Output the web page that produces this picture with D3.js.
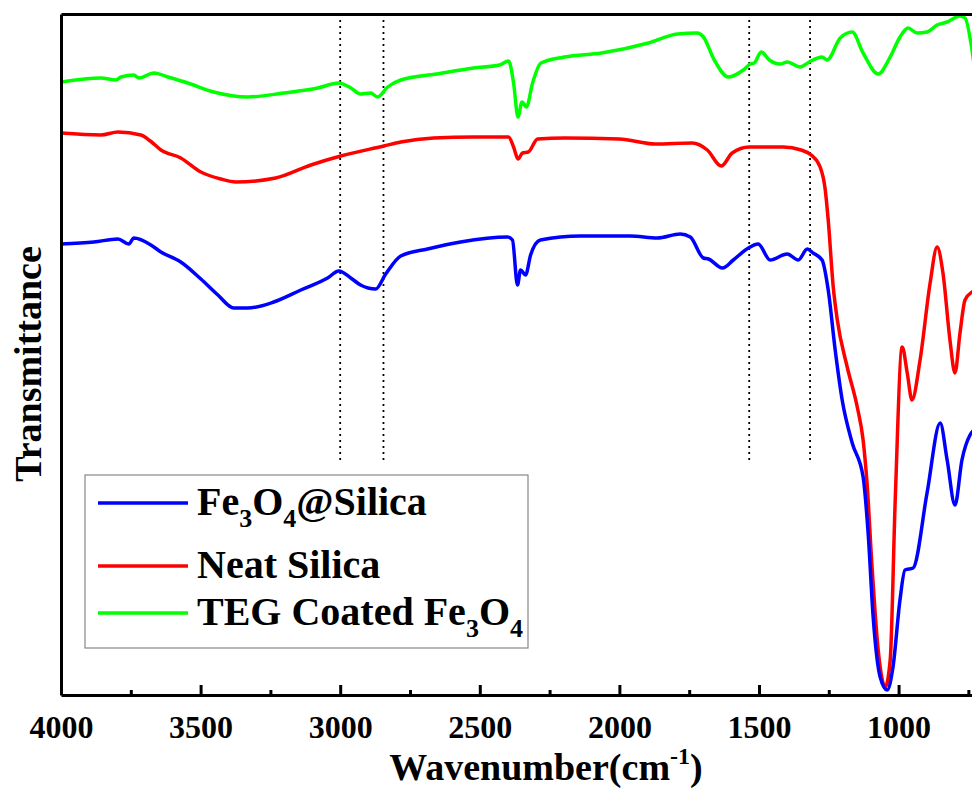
<!DOCTYPE html>
<html>
<head>
<meta charset="utf-8">
<script src="https://cdn.jsdelivr.net/npm/d3@7"></script>
<style>
  body { margin: 0; background: #fff; }
  svg text { font-family: "Liberation Serif", Tinos, "Times New Roman", "DejaVu Serif", serif !important; font-weight: bold; }
</style>
</head>
<body>
<div class="diagram"></div>
<script>
// FTIR spectra, [wavenumber, transmittance (a.u.)]
const silicaFe = [[4000,45.1],[3882,45.3],[3796,45.6],[3757,45.1],[3739,45.7],[3678,45.0],[3642,44.3],[3571,43.3],[3499,41.6],[3438,40.0],[3381,38.7],[3331,38.7],[3238,39.3],[3141,40.5],[3045,41.7],[3005,42.4],[2962,41.7],[2927,41.0],[2873,40.6],[2837,42.1],[2783,43.9],[2687,44.6],[2569,45.3],[2401,45.8],[2383,45.5],[2365,41.0],[2354,42.5],[2336,42.0],[2318,44.0],[2283,45.5],[2139,45.9],[1961,45.9],[1864,45.7],[1782,46.1],[1746,45.8],[1699,43.7],[1681,43.6],[1631,42.7],[1592,43.5],[1538,44.7],[1503,45.1],[1460,43.5],[1399,44.1],[1359,43.5],[1327,44.6],[1306,44.2],[1274,43.5],[1252,40.5],[1227,34.5],[1202,29.5],[1166,25.2],[1127,21.8],[1109,16.2],[1091,7.8],[1066,1.8],[1041,0.5],[1020,2.8],[995,9.5],[977,12.5],[948,12.7],[898,20.2],[851,27.2],[826,23.5],[798,19.0],[773,23.5],[744,26.0],[730,26.5]];
const neatSilica = [[4000,56.2],[3857,56.0],[3796,56.3],[3714,56.0],[3680,55.4],[3642,54.5],[3571,53.7],[3499,52.3],[3428,51.6],[3374,51.3],[3231,51.7],[3105,53.0],[2998,53.9],[2844,54.9],[2783,55.3],[2665,55.7],[2522,55.8],[2397,55.8],[2379,54.8],[2363,53.6],[2347,54.2],[2326,54.3],[2293,55.6],[2197,55.7],[2000,55.6],[1871,55.1],[1739,55.2],[1685,54.5],[1635,52.9],[1596,54.2],[1535,54.8],[1413,54.8],[1349,54.5],[1313,54.0],[1281,52.8],[1263,50.6],[1252,47.5],[1234,40.8],[1220,37.6],[1184,32.8],[1148,28.8],[1127,25.5],[1113,21.2],[1095,12.8],[1073,4.5],[1048,0.8],[1030,3.5],[1012,19.5],[987,34.8],[969,32.2],[952,29.5],[923,33.5],[887,41.2],[862,44.8],[841,42.2],[816,35.5],[798,32.2],[780,36.2],[762,39.5],[737,40.3],[730,40.4]];
const tegFe = [[4000,61.3],[3857,61.7],[3803,61.5],[3785,61.8],[3739,62.0],[3721,61.7],[3667,62.2],[3617,61.8],[3546,61.2],[3453,60.3],[3331,59.8],[3202,60.2],[3080,60.7],[3005,61.2],[2962,60.7],[2927,60.1],[2891,60.2],[2866,59.8],[2830,60.8],[2783,61.5],[2655,62.1],[2522,62.7],[2429,63.0],[2397,63.4],[2379,61.2],[2363,57.8],[2349,59.3],[2333,58.8],[2311,61.2],[2281,63.2],[2197,63.8],[2064,64.2],[1896,65.2],[1792,66.1],[1721,66.2],[1699,65.8],[1660,63.5],[1610,61.8],[1556,62.5],[1531,63.1],[1517,63.2],[1492,64.3],[1463,63.5],[1424,63.1],[1399,63.3],[1352,62.8],[1320,63.3],[1274,63.8],[1256,63.5],[1209,65.7],[1166,66.3],[1127,64.2],[1073,62.1],[1030,63.8],[995,65.8],[966,66.7],[934,66.2],[898,66.3],[862,67.0],[826,67.3],[780,67.9],[762,67.7],[737,64.5],[725,62.0]];

const seriesNames = ["Fe3O4@Silica", "Neat Silica", "TEG Coated Fe3O4"];
const seriesColors = ["#0000ff", "#ff0000", "#00ff00"];
const majorTicks = [4000, 3500, 3000, 2500, 2000, 1500, 1000];
const minorTicks = [3750, 3250, 2750, 2250, 1750, 1250, 750];
const markerLines = [3000, 2845, 1535, 1317];

const w = 972, h = 789,
      padLeft = 61, padRight = 972, padTop = 14, padBottom = 695,
      serif = "'Liberation Serif', Tinos, 'Times New Roman', 'DejaVu Serif', serif";

const svg = d3.select(".diagram")
  .append("svg")
  .attr("width", w)
  .attr("height", h);

const xScale = d3.scaleLinear().domain([4000, 737]).range([padLeft, padRight]);
const yScale = d3.scaleLinear().domain([0, 68.1]).range([padBottom, padTop]);

svg.append("clipPath").attr("id", "clip")
  .append("rect")
  .attr("x", padLeft).attr("y", 0)
  .attr("width", padRight - padLeft).attr("height", padBottom + 2);

// dotted marker lines
svg.selectAll(".marker")
  .data(markerLines)
  .enter()
  .append("line")
  .attr("class", "marker")
  .attr("x1", (d) => xScale(d))
  .attr("x2", (d) => xScale(d))
  .attr("y1", padTop)
  .attr("y2", 460)
  .attr("stroke", "#000")
  .attr("stroke-width", 1.8)
  .attr("stroke-dasharray", "2,4");

const line = d3.line()
  .x((d) => xScale(d[0]))
  .y((d) => yScale(d[1]))
  .curve(d3.curveMonotoneX);

const plot = svg.append("g").attr("clip-path", "url(#clip)");
[tegFe, neatSilica, silicaFe].forEach((s, i) => {
  plot.append("path")
    .datum(s)
    .attr("d", line)
    .attr("fill", "none")
    .attr("stroke", seriesColors[2 - i])
    .attr("stroke-width", 3.5)
    .attr("stroke-linejoin", "round");
});

// axes
const xAxis = d3.axisBottom(xScale)
  .tickValues(majorTicks)
  .tickSizeInner(-10)
  .tickSizeOuter(0)
  .tickPadding(20)
  .tickFormat(d3.format(""));
const gx = svg.append("g")
  .attr("transform", "translate(0," + padBottom + ")")
  .call(xAxis)
  .attr("id", "x-axis")
  .attr("font-family", serif)
  .attr("font-size", 32);
gx.select(".domain").attr("stroke-width", 3);
gx.selectAll(".tick line").attr("stroke-width", 3);
gx.selectAll("text")
  .attr("font-weight", "bold")
  .attr("fill", "#000");

const gxMinor = svg.append("g")
  .attr("transform", "translate(0," + padBottom + ")")
  .call(d3.axisBottom(xScale).tickValues(minorTicks).tickSizeInner(-5).tickSizeOuter(0).tickFormat(""));
gxMinor.select(".domain").remove();
gxMinor.selectAll(".tick line").attr("stroke-width", 3);

const gy = svg.append("g")
  .attr("transform", "translate(" + padLeft + ",0)")
  .call(d3.axisLeft(yScale).tickValues([]).tickSizeOuter(0));
gy.select(".domain").attr("stroke-width", 3);

const gtop = svg.append("g")
  .attr("transform", "translate(0," + padTop + ")")
  .call(d3.axisTop(xScale).tickValues([]).tickSizeOuter(0));
gtop.select(".domain").attr("stroke-width", 3);

// axis titles
const xt = svg.append("text")
  .attr("x", 546)
  .attr("y", 780)
  .attr("text-anchor", "middle")
  .attr("font-family", serif)
  .attr("font-size", 38);
xt.append("tspan").text("Wavenumber(cm");
xt.append("tspan").attr("font-size", 24).attr("dy", -16).text("-1");
xt.append("tspan").attr("dy", 16).text(")");

svg.append("text")
  .attr("transform", "translate(41,364) rotate(-90)")
  .attr("text-anchor", "middle")
  .attr("font-family", serif)
  .attr("font-size", 38)
  .text("Transmittance");

// legend
svg.append("rect")
  .attr("x", 85).attr("y", 475)
  .attr("width", 443).attr("height", 173)
  .attr("fill", "#fff")
  .attr("stroke", "#888")
  .attr("stroke-width", 1.2);

const legendY = [503, 566, 613];
const legendParts = [
  [["Fe", 0], ["3", 1], ["O", 0], ["4", 1], ["@Silica", 0]],
  [["Neat Silica", 0]],
  [["TEG Coated Fe", 0], ["3", 1], ["O", 0], ["4", 1]]
];
seriesNames.forEach((name, i) => {
  svg.append("line")
    .attr("x1", 98).attr("x2", 188)
    .attr("y1", legendY[i]).attr("y2", legendY[i])
    .attr("stroke", seriesColors[i])
    .attr("stroke-width", 3.5);
  const t = svg.append("text")
    .attr("x", 197)
    .attr("y", legendY[i] + 12)
    .attr("font-family", serif)
    .attr("font-size", 40);
  let shifted = 0;
  legendParts[i].forEach((p) => {
    const dy = p[1] ? 12 - shifted : -shifted;
    shifted = p[1] ? 12 : 0;
    t.append("tspan")
      .attr("dy", dy)
      .attr("font-size", p[1] ? 26 : 40)
      .text(p[0]);
  });
});
</script>
</body>
</html>
